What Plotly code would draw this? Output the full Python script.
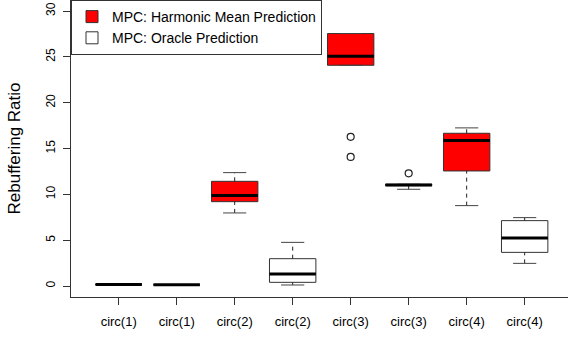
import plotly.graph_objects as go

# ---- data ----
tick_labels = ["circ(1)", "circ(1)", "circ(2)", "circ(2)", "circ(3)", "circ(3)", "circ(4)", "circ(4)"]
harm_pos = [1, 3, 5, 7]
harm_lower = [0.17, 7.97, 24.08, 8.77]
harm_q1 = [0.17, 9.20, 24.08, 12.55]
harm_med = [0.17, 9.86, 25.07, 15.86]
harm_q3 = [0.17, 11.42, 27.54, 16.66]
harm_upper = [0.17, 12.37, 27.54, 17.25]
harm_out = [[], [], [16.27, 14.08], []]

orac_pos = [2, 4, 6, 8]
orac_lower = [0.14, 0.11, 10.55, 2.47]
orac_q1 = [0.14, 0.40, 10.95, 3.67]
orac_med = [0.14, 1.31, 11.03, 5.24]
orac_q3 = [0.14, 2.98, 11.10, 7.13]
orac_upper = [0.14, 4.76, 11.10, 7.46]
orac_out = [[], [], [12.29], []]

BOXW = 0.8
CAPW = 0.4
OUTLINE = "#333333"

fig = go.Figure()

def add_group(name, pos, lower, q1, med, q3, upper, outs, fill):
    fig.add_trace(go.Box(
        name=name, x=pos, q1=q1, median=med, q3=q3,
        lowerfence=q1, upperfence=q3, width=BOXW, whiskerwidth=0,
        fillcolor=fill, line=dict(color=OUTLINE, width=1),
        boxpoints=False, hoverinfo="skip",
    ))
    # dashed whiskers
    wx, wy = [], []
    for p, lo, a, b, hi in zip(pos, lower, q1, q3, upper):
        if hi > b:
            wx += [p, p, None]; wy += [b, hi, None]
        if lo < a:
            wx += [p, p, None]; wy += [lo, a, None]
    fig.add_trace(go.Scatter(x=wx, y=wy, mode="lines", showlegend=False, hoverinfo="skip",
                             line=dict(color="#222222", width=1, dash="4px,4px")))
    # caps
    cx, cy = [], []
    for p, lo, hi in zip(pos, lower, upper):
        cx += [p - CAPW / 2, p + CAPW / 2, None, p - CAPW / 2, p + CAPW / 2, None]
        cy += [lo, lo, None, hi, hi, None]
    fig.add_trace(go.Scatter(x=cx, y=cy, mode="lines", showlegend=False, hoverinfo="skip",
                             line=dict(color="#444444", width=1)))
    # thick medians
    mx, my = [], []
    for p, m in zip(pos, med):
        mx += [p - BOXW / 2, p + BOXW / 2, None]; my += [m, m, None]
    fig.add_trace(go.Scatter(x=mx, y=my, mode="lines", showlegend=False, hoverinfo="skip",
                             line=dict(color="black", width=3)))
    # outliers
    ox, oy = [], []
    for p, o in zip(pos, outs):
        for v in o:
            ox.append(p); oy.append(v)
    if ox:
        fig.add_trace(go.Scatter(x=ox, y=oy, mode="markers", showlegend=False, hoverinfo="skip",
                                 marker=dict(symbol="circle-open", size=7, color="#222222",
                                             line=dict(width=1.2))))

add_group("MPC: Harmonic Mean Prediction", harm_pos, harm_lower, harm_q1, harm_med,
          harm_q3, harm_upper, harm_out, "#FF0000")
add_group("MPC: Oracle Prediction", orac_pos, orac_lower, orac_q1, orac_med,
          orac_q3, orac_upper, orac_out, "#FFFFFF")

font = "Liberation Sans, Arial, sans-serif"
fig.update_layout(
    width=568, height=337,
    margin=dict(l=71, r=0, t=0, b=40),
    paper_bgcolor="white", plot_bgcolor="white",
    boxmode="overlay",
    font=dict(family=font, color="black"),
    showlegend=True,
    legend=dict(x=0, y=1, xanchor="left", yanchor="top", bgcolor="white",
                bordercolor="#333333", borderwidth=1, font=dict(size=14),
                entrywidth=220, tracegroupgap=0),
    xaxis=dict(range=[0.178, 8.747], tickvals=list(range(1, 9)), ticktext=tick_labels,
               showline=True, linecolor="#333333", linewidth=1, ticks="outside", ticklen=7,
               tickcolor="#333333", showgrid=False, zeroline=False, tickfont=dict(size=13),
               ticklabelstandoff=5),
    yaxis=dict(range=[-1.2, 31.2], tickvals=[0, 5, 10, 15, 20, 25, 30],
               showline=True, linecolor="#333333", linewidth=1, ticks="outside", ticklen=7,
               tickcolor="#333333", showgrid=False, zeroline=False, tickangle=-90,
               tickfont=dict(size=12), ticklabelstandoff=3,
               title=dict(text="Rebuffering Ratio", font=dict(size=17), standoff=19)),
)

fig.write_html("out.html")
